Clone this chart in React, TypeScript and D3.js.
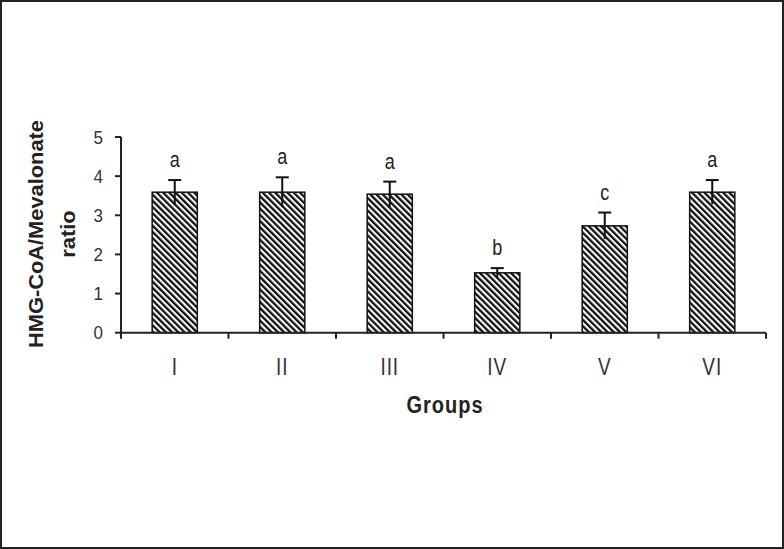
import React, { useEffect, useRef } from 'react';
import * as d3 from 'd3';

const groups = ['I', 'II', 'III', 'IV', 'V', 'VI'];
const means = [3.59, 3.59, 3.54, 1.53, 2.73, 3.59];
const errors = [0.31, 0.38, 0.32, 0.12, 0.34, 0.31];
const letters = ['a', 'a', 'a', 'b', 'c', 'a'];
const yTicks = [0, 1, 2, 3, 4, 5];

const App = () => {
  const ref = useRef<SVGSVGElement>(null);

  useEffect(() => {
    const width = 784;
    const height = 549;
    const left = 121;
    const right = 766;
    const font = 'Liberation Sans, Arial, sans-serif';
    // the source picture is a little stretched vertically
    const stretch = (px: number, py: number, sx = 0.95, sy = 1.18) =>
      `translate(${px},${py}) scale(${sx},${sy})`;

    const svg = d3.select(ref.current);
    svg.selectAll('*').remove();
    svg.attr('width', width).attr('height', height);

    svg.append('rect')
      .attr('x', 1).attr('y', 1)
      .attr('width', width - 2).attr('height', height - 2)
      .attr('fill', '#fff')
      .attr('stroke', '#222')
      .attr('stroke-width', 2);

    // hatch fill
    const pattern = svg.append('defs')
      .append('pattern')
      .attr('id', 'hatch')
      .attr('patternUnits', 'userSpaceOnUse')
      .attr('width', 4.4)
      .attr('height', 4.4)
      .attr('patternTransform', 'rotate(-45)');
    pattern.append('rect').attr('width', 4.4).attr('height', 4.4).attr('fill', '#fff');
    pattern.append('rect').attr('width', 2.3).attr('height', 4.4).attr('fill', '#111');

    const x = d3.scaleBand().domain(groups).range([left, right]).padding(0);
    const y = d3.scaleLinear().domain([0, 5]).range([332.7, 137]);
    const barW = x.bandwidth() * 0.42;

    const g = svg.append('g');

    // bars
    g.selectAll('rect.bar')
      .data(groups)
      .enter()
      .append('rect')
      .attr('class', 'bar')
      .attr('x', (d) => x(d)! + x.bandwidth() / 2 - barW / 2)
      .attr('y', (d, i) => y(means[i]))
      .attr('width', barW)
      .attr('height', (d, i) => y(0) - y(means[i]))
      .attr('fill', 'url(#hatch)')
      .attr('stroke', '#111')
      .attr('stroke-width', 1.5);

    // error bars + significance letters
    groups.forEach((d, i) => {
      const cx = x(d)! + x.bandwidth() / 2;
      const hi = y(means[i] + errors[i]);
      const lo = y(means[i] - errors[i]);
      g.append('line')
        .attr('x1', cx).attr('x2', cx)
        .attr('y1', hi).attr('y2', lo)
        .attr('stroke', '#111').attr('stroke-width', 2);
      g.append('line')
        .attr('x1', cx - 6.5).attr('x2', cx + 6.5)
        .attr('y1', hi).attr('y2', hi)
        .attr('stroke', '#111').attr('stroke-width', 2);
      g.append('text')
        .attr('transform', stretch(cx, hi - 13))
        .attr('text-anchor', 'middle')
        .attr('font-family', font)
        .attr('font-size', 19)
        .attr('fill', '#222')
        .text(letters[i]);
    });

    // y axis
    g.append('line')
      .attr('x1', left).attr('x2', left)
      .attr('y1', y(5)).attr('y2', y(0))
      .attr('stroke', '#222').attr('stroke-width', 2);
    yTicks.forEach((t) => {
      g.append('line')
        .attr('x1', left - 6).attr('x2', left)
        .attr('y1', y(t)).attr('y2', y(t))
        .attr('stroke', '#222').attr('stroke-width', 2);
      g.append('text')
        .attr('transform', stretch(103, y(t) + 6.5, 1, 1.12))
        .attr('text-anchor', 'end')
        .attr('font-family', font)
        .attr('font-size', 17)
        .attr('fill', '#333')
        .text(t);
    });

    // x axis
    g.append('line')
      .attr('x1', left).attr('x2', right)
      .attr('y1', y(0)).attr('y2', y(0))
      .attr('stroke', '#222').attr('stroke-width', 2);
    const bounds = groups.map((d) => x(d)!).concat([right]);
    bounds.forEach((b) => {
      g.append('line')
        .attr('x1', b).attr('x2', b)
        .attr('y1', y(0)).attr('y2', y(0) + 6)
        .attr('stroke', '#222').attr('stroke-width', 2);
    });
    groups.forEach((d) => {
      g.append('text')
        .attr('transform', stretch(x(d)! + x.bandwidth() / 2, 375, 0.95, 1.22))
        .attr('text-anchor', 'middle')
        .attr('font-family', font)
        .attr('font-size', 20)
        .attr('letter-spacing', 1)
        .attr('fill', '#333')
        .text(d);
    });

    // axis titles
    g.append('text')
      .attr('transform', stretch(445, 413, 1, 1.15))
      .attr('text-anchor', 'middle')
      .attr('font-family', font)
      .attr('font-weight', 'bold')
      .attr('font-size', 20)
      .attr('letter-spacing', 1)
      .attr('fill', '#222')
      .text('Groups');

    g.append('text')
      .attr('transform', 'translate(43,234) rotate(-90) scale(1.04,1)')
      .attr('text-anchor', 'middle')
      .attr('font-family', font)
      .attr('font-weight', 'bold')
      .attr('font-size', 21)
      .attr('fill', '#222')
      .text('HMG-CoA/Mevalonate');
    g.append('text')
      .attr('transform', 'translate(75,234) rotate(-90) scale(1.04,1)')
      .attr('text-anchor', 'middle')
      .attr('font-family', font)
      .attr('font-weight', 'bold')
      .attr('font-size', 21)
      .attr('fill', '#222')
      .text('ratio');
  }, []);

  return (
    <svg ref={ref} style={{ position: 'absolute', left: 0, top: 0, display: 'block' }} />
  );
};

export default App;
